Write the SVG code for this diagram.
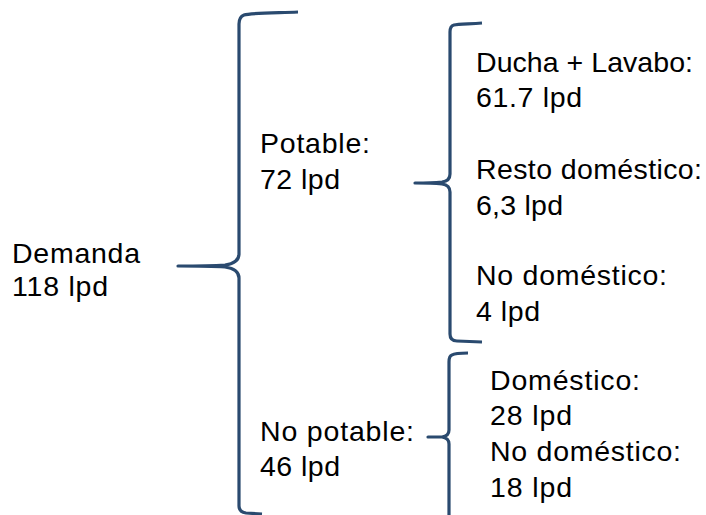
<svg xmlns="http://www.w3.org/2000/svg" width="706" height="515" viewBox="0 0 706 515">
  <style>
    .brace { fill: none; stroke: #2a4a6f; stroke-width: 3.2; stroke-linecap: butt; stroke-linejoin: round; }
    .label { font-family: "Liberation Sans", Arial, sans-serif; font-size: 28.5px; fill: #000; }
  </style>
  <rect width="706" height="515" fill="#fff"/>

  <g id="connectors">
    <!-- main brace: Demanda -> Potable / No potable -->
    <path class="brace" d="M298,12 C270,13 250,13 244,15 Q239,17 239,24 L239,254 Q239,263 225,265 C210,266 195,266 178,266 C195,266 210,266 225,267 Q239,269 239,278 L239,506 Q239,512 246,513 L262,514"/>
    <!-- brace: Potable -> three uses -->
    <path class="brace" d="M482,23 C468,24 458,24 454,25 Q450,26 450,32 L450,174 Q450,181 442,182 C432,183 424,183 415,183 C424,183 432,183 442,184 Q450,185 450,192 L450,334 Q450,341 457,341 L482,342"/>
    <!-- brace: No potable -> two uses -->
    <path class="brace" d="M468,353 C460,353 455,353 452,355 Q449,356 449,362 L449,430 Q449,436 442,437 L428,437 L442,437 Q449,438 449,444 L449,515"/>
  </g>

  <g id="demanda">
    <text class="label" x="12" y="263" textLength="128">Demanda</text>
    <text class="label" x="12" y="296" textLength="96">118 lpd</text>
  </g>
  <g id="potable">
    <text class="label" x="260" y="153" textLength="110">Potable:</text>
    <text class="label" x="260" y="189" textLength="80">72 lpd</text>
  </g>
  <g id="no-potable">
    <text class="label" x="260" y="441" textLength="154">No potable:</text>
    <text class="label" x="260" y="476" textLength="80">46 lpd</text>
  </g>
  <g id="ducha-lavabo">
    <text class="label" x="476" y="72" textLength="217">Ducha + Lavabo:</text>
    <text class="label" x="476" y="107" textLength="106">61.7 lpd</text>
  </g>
  <g id="resto-domestico">
    <text class="label" x="476" y="179" textLength="226">Resto doméstico:</text>
    <text class="label" x="476" y="215" textLength="87">6,3 lpd</text>
  </g>
  <g id="no-domestico-potable">
    <text class="label" x="476" y="285" textLength="191">No doméstico:</text>
    <text class="label" x="476" y="321" textLength="64">4 lpd</text>
  </g>
  <g id="domestico">
    <text class="label" x="490" y="390" textLength="150">Doméstico:</text>
    <text class="label" x="490" y="425" textLength="82">28 lpd</text>
  </g>
  <g id="no-domestico">
    <text class="label" x="490" y="461" textLength="191">No doméstico:</text>
    <text class="label" x="490" y="497" textLength="82">18 lpd</text>
  </g>
</svg>
